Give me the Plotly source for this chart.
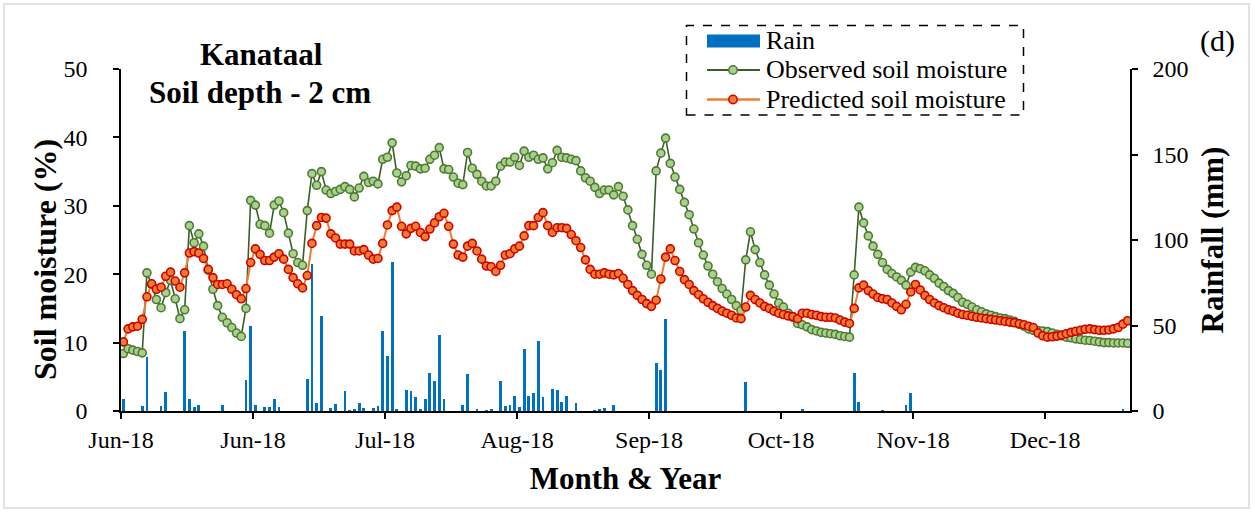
import pandas as pd
import plotly.graph_objects as go

# ---------------- data ----------------
start_date = "2018-06-01"

observed = [
    8.4, 9.1, 8.9, 8.7, 8.5, 20.2, 18.5, 16.3, 15.1, 17.3,
    19.1, 16.4, 13.5, 14.8, 27.1, 24.6, 25.9, 24.1, 20.6, 17.8,
    15.4, 13.7, 12.9, 12.2, 11.4, 10.9, 15.0, 30.8, 30.1, 27.3,
    27.1, 26.0, 30.1, 30.7, 29.0, 26.0, 23.0, 21.7, 21.3, 29.3,
    34.7, 33.0, 35.0, 32.3, 31.8, 32.1, 32.4, 32.8, 32.4, 31.3,
    32.6, 34.3, 33.4, 33.6, 33.2, 36.8, 37.1, 39.2, 34.8, 33.5,
    34.4, 35.9, 35.8, 35.4, 35.5, 36.8, 37.4, 38.5, 35.4, 35.3,
    34.2, 33.3, 33.1, 37.8, 35.5, 34.6, 33.6, 32.9, 32.9, 33.6,
    35.8, 36.4, 36.4, 37.1, 35.9, 38.0, 37.1, 37.4, 36.8, 37.0,
    35.4, 36.3, 38.1, 37.1, 37.0, 36.8, 36.6, 35.1, 34.1, 33.6,
    32.7, 31.8, 32.3, 32.3, 31.6, 32.8, 31.4, 29.4, 27.1, 25.1,
    22.9, 21.3, 20.0, 35.1, 37.7, 39.9, 36.2, 34.2, 32.4, 30.5,
    28.7, 26.6, 24.6, 22.8, 21.2, 20.0, 18.9, 17.9, 17.1, 16.3,
    15.4, 14.7, 22.1, 26.2, 23.6, 21.7, 19.9, 18.4, 17.1, 15.8,
    15.2, 14.3, 13.7, 12.8, 12.6, 12.3, 11.9, 11.7, 11.5, 11.4,
    11.3, 11.2, 11.0, 10.9, 10.8, 19.9, 29.8, 27.5, 25.6, 24.1,
    22.9, 21.7, 20.7, 20.1, 19.6, 19.1, 18.4, 20.3, 21.0, 20.8,
    20.5, 19.9, 19.4, 18.7, 18.2, 17.6, 17.2, 16.6, 15.9, 15.6,
    15.2, 14.8, 14.5, 14.2, 14.0, 13.8, 13.6, 13.5, 13.3, 13.1,
    12.7, 12.4, 12.0, 11.8, 11.75, 11.7, 11.6, 11.4, 11.2, 11.0,
    10.8, 10.7, 10.55, 10.45, 10.35, 10.3, 10.2, 10.1, 10.0, 10.0,
    9.95, 9.95, 9.95, 9.9,
]

predicted = [
    10.1, 12.0, 12.3, 12.4, 13.4, 16.7, 18.6, 17.8, 18.1, 19.7,
    20.3, 19.0, 18.1, 20.2, 23.1, 23.3, 23.1, 22.3, 20.7, 19.5,
    18.5, 18.5, 18.6, 17.8, 17.0, 16.4, 17.9, 21.7, 23.7, 22.9,
    22.0, 22.0, 22.5, 23.0, 22.2, 20.7, 19.5, 18.6, 18.0, 19.8,
    24.5, 27.1, 28.3, 28.2, 25.9, 25.3, 24.4, 24.4, 24.4, 23.4,
    23.4, 23.6, 22.8, 22.2, 22.3, 24.5, 27.2, 29.3, 29.8, 27.0,
    25.9, 26.7, 27.0, 26.1, 25.5, 26.6, 27.5, 28.4, 28.9, 27.0,
    24.4, 22.8, 22.5, 24.1, 24.5, 23.4, 22.2, 21.2, 21.1, 20.4,
    21.3, 22.8, 23.0, 23.7, 24.1, 25.6, 27.1, 27.1, 28.3, 29.0,
    27.1, 26.1, 26.8, 26.8, 26.7, 25.8, 24.9, 23.9, 22.1, 20.7,
    20.0, 20.0, 20.2, 20.0, 19.9, 20.1, 19.4, 18.5, 17.6, 16.9,
    16.3, 15.7, 15.3, 16.2, 19.3, 22.5, 23.7, 22.0, 20.4, 19.2,
    18.5, 17.6, 17.0, 16.4, 15.9, 15.4, 15.0, 14.6, 14.3, 14.0,
    13.6, 13.5, 15.2, 16.9, 16.3, 15.8, 15.3, 15.0, 14.6, 14.3,
    14.1, 13.9, 13.8, 13.5, 14.3, 14.3, 14.1, 14.0, 13.8, 13.7,
    13.7, 13.6, 13.3, 13.0, 12.8, 15.0, 18.0, 18.4, 17.6, 17.1,
    16.6, 16.4, 16.3, 15.8, 15.3, 14.8, 15.6, 17.4, 18.5, 17.7,
    16.9, 16.3, 15.8, 15.4, 15.1, 14.8, 14.6, 14.3, 14.1, 14.0,
    13.85, 13.7, 13.6, 13.5, 13.4, 13.3, 13.2, 13.1, 13.0, 12.9,
    12.75, 12.6, 12.4, 12.2, 11.4, 11.0, 10.8, 10.85, 10.95, 11.1,
    11.3, 11.5, 11.65, 11.8, 11.95, 12.0, 11.9, 11.8, 11.8, 11.85,
    12.0, 12.2, 12.7, 13.2,
]

# rainfall: day offset from start_date -> mm
rain_day = [
    0, 4, 5, 8, 9, 13, 14, 15, 16, 21, 26, 27, 28, 30, 31, 32, 33,
    39, 40, 41, 42, 44, 45, 47, 48, 49, 50, 51, 53, 54, 55, 56, 57, 58,
    60, 61, 62, 63, 64, 65, 66, 67, 68, 72, 73, 75, 77, 78, 80, 81, 82,
    83, 84, 85, 86, 87, 88, 89, 91, 92, 93, 94, 96, 100, 101, 102, 104,
    113, 114, 115, 132, 144, 155, 156, 161, 166, 167, 212,
]
rain_mm = [
    6.9, 3.1, 31.6, 2.7, 11.2, 47.0, 6.9, 2.4, 3.5, 3.5, 18.0, 50.0, 3.3, 2.4, 2.4, 7.0, 2.5,
    18.6, 86.0, 4.7, 55.7, 2.0, 4.3, 11.8, 0.4, 1.2, 4.9, 2.0, 1.6, 2.9, 47.0, 32.0, 87.0, 0.8,
    12.2, 11.8, 8.2, 0.8, 7.3, 22.4, 17.6, 44.7, 7.3, 3.5, 21.6, 1.0, 0.4, 1.0, 17.6, 2.7, 3.5,
    9.0, 2.4, 36.3, 8.8, 10.6, 41.2, 8.2, 12.7, 12.5, 5.5, 9.0, 4.7, 0.4, 0.8, 1.6, 3.3,
    28.0, 24.0, 54.0, 16.7, 0.8, 22.4, 5.3, 0.4, 3.3, 10.8, 0.8,
]

tick_labels_format = "%b-%y"
title_lines = ["Kanataal", "Soil depth - 2 cm"]
legend_names = ["Rain", "Observed soil moisture", "Predicted soil moisture"]

# ---------------- figure ----------------
DAY_MS = 86400000
base = pd.Timestamp(start_date)
dates = [base + pd.Timedelta(days=i, hours=12) for i in range(len(observed))]
rain_dates = [base + pd.Timedelta(days=d, hours=12) for d in rain_day]

W, H = 1255, 512
L, R, T, B = 121, 125, 69, 101
PW, PH = W - L - R, H - T - B


def px_x(px):
    return (px - L) / PW


def px_y(py):
    return (H - B - py) / PH


SERIF = "Liberation Serif, Times New Roman, serif"
OBS_LINE = "#3B5E26"
OBS_EDGE = "#507A33"
OBS_FILL = "#A9D18E"
PRED_LINE = "#ED7D31"
PRED_FILL = "#ED7D31"
PRED_EDGE = "#D00000"
RAIN = "#0070C0"

fig = go.Figure()
fig.add_trace(go.Bar(
    x=rain_dates, y=rain_mm, name=legend_names[0], yaxis="y",
    marker=dict(color=RAIN, line=dict(width=0)), width=0.6 * DAY_MS,
    showlegend=False,
))
fig.add_trace(go.Scatter(
    x=dates, y=observed, name=legend_names[1], yaxis="y2", mode="lines+markers",
    line=dict(color=OBS_LINE, width=1.6),
    marker=dict(size=8, color=OBS_FILL, line=dict(color=OBS_EDGE, width=1.6)),
    showlegend=False,
))
fig.add_trace(go.Scatter(
    x=dates, y=predicted, name=legend_names[2], yaxis="y2", mode="lines+markers",
    line=dict(color=PRED_LINE, width=2),
    marker=dict(size=8, color=PRED_FILL, line=dict(color=PRED_EDGE, width=1.6)),
    showlegend=False,
))

axis_common = dict(
    showline=True, linecolor="black", linewidth=1.5, mirror=False,
    ticks="outside", ticklen=6, tickwidth=1.5, tickcolor="black",
    showgrid=False, zeroline=False,
    tickfont=dict(family=SERIF, size=24, color="black"),
)

fig.update_layout(
    width=W, height=H, autosize=False,
    margin=dict(l=L, r=R, t=T, b=B, pad=0),
    paper_bgcolor="white", plot_bgcolor="white",
    bargap=0, showlegend=False,
    xaxis=dict(
        type="date",
        range=[base, base + pd.Timedelta(days=214)],
        tick0=base, dtick=28 * DAY_MS, tickformat=tick_labels_format,
        ticklabelstandoff=0,
        title=dict(text="<b>Month & Year</b>", font=dict(family=SERIF, size=31, color="black"), standoff=16),
        **axis_common,
    ),
    yaxis=dict(
        side="right", range=[0, 200], dtick=50, anchor="x",
        ticklabelstandoff=10,
        title=dict(text="<b>Rainfall (mm)</b>", font=dict(family=SERIF, size=31, color="black"), standoff=14),
        **axis_common,
    ),
    yaxis2=dict(
        side="left", overlaying="y", range=[0, 50], dtick=10, anchor="x",
        ticklabelstandoff=21,
        **axis_common,
    ),
)

shapes = []
# outer chart-area border
shapes.append(dict(type="rect", xref="paper", yref="paper",
                   x0=px_x(4), x1=px_x(1249), y0=px_y(508), y1=px_y(4),
                   line=dict(color="#D9D9D9", width=1.5), layer="below"))
# legend box (dashed)
shapes.append(dict(type="rect", xref="paper", yref="paper",
                   x0=px_x(686.5), x1=px_x(1023.5), y0=px_y(115), y1=px_y(25.5),
                   line=dict(color="black", width=1.5, dash="dash"), fillcolor="white"))
# legend symbols
sym_x0, sym_x1, sym_xc = 707, 760, 733
rows_y = [41, 70, 99.5]
shapes.append(dict(type="rect", xref="paper", yref="paper",
                   x0=px_x(sym_x0), x1=px_x(sym_x1), y0=px_y(rows_y[0] + 6.5), y1=px_y(rows_y[0] - 6.5),
                   line=dict(width=0), fillcolor=RAIN))
for ry, lc, fc, ec, lw in [(rows_y[1], OBS_LINE, OBS_FILL, OBS_EDGE, 2),
                           (rows_y[2], PRED_LINE, PRED_FILL, PRED_EDGE, 2.5)]:
    shapes.append(dict(type="line", xref="paper", yref="paper",
                       x0=px_x(sym_x0), x1=px_x(sym_x1), y0=px_y(ry), y1=px_y(ry),
                       line=dict(color=lc, width=lw)))
    shapes.append(dict(type="circle", xref="paper", yref="paper",
                       x0=px_x(sym_xc - 4.2), x1=px_x(sym_xc + 4.2),
                       y0=px_y(ry + 4.2), y1=px_y(ry - 4.2),
                       line=dict(color=ec, width=1.5), fillcolor=fc))

annotations = []
for name, ry in zip(legend_names, rows_y):
    annotations.append(dict(text=name, xref="paper", yref="paper",
                            x=px_x(764), y=px_y(ry), xanchor="left", yanchor="middle",
                            showarrow=False, font=dict(family=SERIF, size=26, color="black")))
annotations.append(dict(text="<b>" + title_lines[0] + "</b>", xref="paper", yref="paper",
                        x=px_x(261), y=px_y(55), xanchor="center", yanchor="middle",
                        showarrow=False, font=dict(family=SERIF, size=31, color="black")))
annotations.append(dict(text="<b>" + title_lines[1] + "</b>", xref="paper", yref="paper",
                        x=px_x(260), y=px_y(92), xanchor="center", yanchor="middle",
                        showarrow=False, font=dict(family=SERIF, size=31, color="black")))
annotations.append(dict(text="(d)", xref="paper", yref="paper",
                        x=px_x(1217), y=px_y(41), xanchor="center", yanchor="middle",
                        showarrow=False, font=dict(family=SERIF, size=30, color="black")))
# left axis title
annotations.append(dict(text="<b>Soil moisture (%)</b>", xref="paper", yref="paper",
                        x=px_x(45), y=px_y(260), xanchor="center", yanchor="middle",
                        textangle=-90, showarrow=False,
                        font=dict(family=SERIF, size=32, color="black")))

fig.update_layout(shapes=shapes, annotations=annotations)
fig.write_html(
    "out.html",
    config={"displayModeBar": False},
    post_script="document.body.style.margin='0';document.body.style.overflow='hidden';",
)
